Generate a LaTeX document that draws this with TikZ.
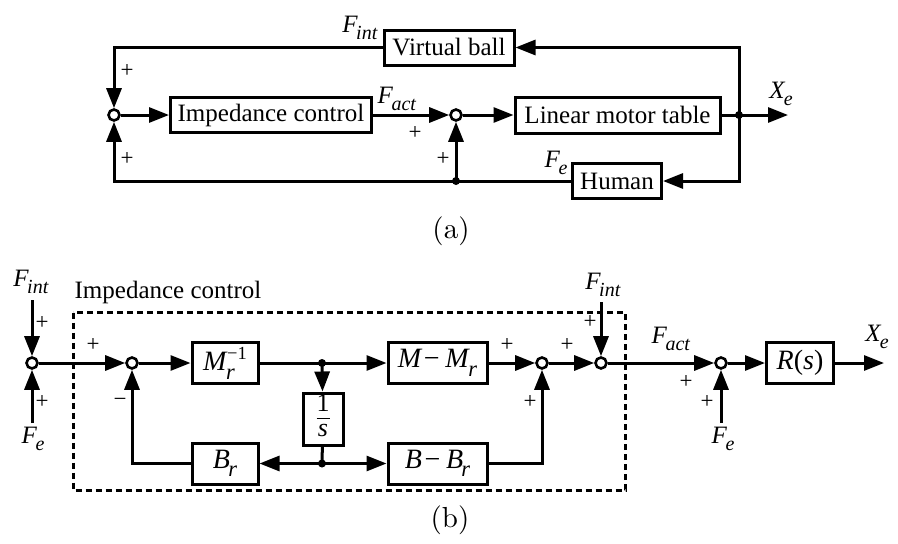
\documentclass[tikz,border=0pt]{standalone}
\usepackage{fontspec}
\setmainfont{Liberation Serif}
\usetikzlibrary{arrows.meta}

% italic symbol with a lowered italic subscript
\newcommand{\sym}[2]{\textit{#1}\kern-0.06em\raisebox{-0.3em}{\scalebox{0.8}{\textit{#2}}}}
% italic symbol with subscript and superscript
\newcommand{\symsup}[3]{\textit{#1}\kern-0.06em\rlap{\raisebox{-0.3em}{\scalebox{0.8}{\textit{#2}}}}\kern0.04em\raisebox{0.42em}{\scalebox{0.66}{#3}}}
% stacked fraction
\newcommand{\stackfrac}[2]{{\setlength{\arrayrulewidth}{1.4pt}\renewcommand{\arraystretch}{0.85}%
  \begin{tabular}{@{}c@{}}#1\\[-1pt]\hline\noalign{\vskip1pt}#2\end{tabular}}}

\begin{document}
\begin{tikzpicture}[x=1pt,y=-1pt,
  line width=3pt,
  >={Triangle[length=20pt,width=15pt]},
  blockbox/.style={draw,rectangle,inner sep=0pt,font=\fontsize{25}{28}\selectfont},
  mathbox/.style={draw,rectangle,inner sep=0pt,font=\fontsize{28}{30}\selectfont},
  sumpt/.style={draw,circle,fill=white,inner sep=0pt,minimum size=11pt,line width=2.6pt},
  dotpt/.style={circle,fill=black,inner sep=0pt,minimum size=8pt},
  sig/.style={inner sep=0pt,font=\fontsize{25}{28}\selectfont},
  sgn/.style={inner sep=0pt,font=\fontsize{23}{24}\selectfont},
  caption/.style={inner sep=0pt},
  plainlabel/.style={inner sep=0pt,font=\fontsize{25}{28}\selectfont},
  dashbox/.style={draw,dash pattern=on 6pt off 4pt,line width=3pt}]

\useasboundingbox (0,0) rectangle (898,544);

% ---------------- (a) ----------------
\node[sumpt] (s1) at (114,115) {};
\node[sumpt] (s2) at (456,115) {};
\node[blockbox,minimum width=201pt,minimum height=35pt] (imp) at (271,115) {Impedance control};
\node[blockbox,minimum width=205pt,minimum height=36pt] (lmt) at (617.5,115) {Linear motor table};
\node[blockbox,minimum width=130pt,minimum height=35pt] (vb) at (449,47.5) {Virtual ball};
\node[blockbox,minimum width=89pt,minimum height=35pt] (hum) at (617,181) {Human};
\node[dotpt] (dA) at (739,115) {};
\node[dotpt] (dB) at (456,181) {};
\coordinate (xa) at (788,115);

\draw[->] (s1) -- (imp);
\draw[->] (imp) -- (s2);
\draw[->] (s2) -- (lmt);
\draw[->] (lmt) -- (xa);
\draw[->] (dA.center) |- (vb.east);
\draw[->] (vb.west) -| (s1);
\draw[->] (dA.center) |- (hum.east);
\draw[->] (hum.west) -| (s1);
\draw[->] (dB.center) -- (s2);

\node[sig] (fintA) at (360,28) {\sym{F}{int}};
\node[sig] (factA) at (397,99) {\sym{F}{act}};
\node[sig] (feA) at (556,163) {\sym{F}{e}};
\node[sig] (xeA) at (781,94) {\sym{X}{e}};
\node[sgn] (pA1) at (127,71) {+};
\node[sgn] (pA2) at (127,159) {+};
\node[sgn] (pA3) at (415,133) {+};
\node[sgn] (pA4) at (443,159) {+};

\node[caption] (capA) at (451,231) {\scalebox{2.9}{\fontfamily{lmr}\fontsize{10}{12}\selectfont (a)}};

% ---------------- (b) ----------------
\draw[dashbox] (73,312.7) rectangle (625.7,490);
\node[plainlabel] (implab) at (168,292) {Impedance control};

\node[sumpt] (sa) at (32,363) {};
\node[sumpt] (sb) at (132,363) {};
\node[sumpt] (sc) at (542,363) {};
\node[sumpt] (sd) at (601,363) {};
\node[sumpt] (se) at (721,363) {};

\node[mathbox,minimum width=66pt,minimum height=41pt] (mr) at (225,363)
  {\symsup{M}{r}{−1}};
\node[mathbox,minimum width=40pt,minimum height=52pt,font=\fontsize{26}{28}\selectfont] (integ) at (323,419)
  {\stackfrac{1}{\textit{s}}};
\node[mathbox,minimum width=66pt,minimum height=41pt] (br) at (225,463.5)
  {\sym{B}{r}};
\node[mathbox,minimum width=99pt,minimum height=41pt] (mm) at (437.5,363)
  {\textit{M}\kern0.05em−\kern0.2em\sym{M}{r}};
\node[mathbox,minimum width=99pt,minimum height=41pt] (bb) at (437.5,463.5)
  {\textit{B}\kern0.1em−\kern0.2em\sym{B}{r}};
\node[mathbox,minimum width=67pt,minimum height=41pt] (rs) at (800,363)
  {\textit{R}(\textit{s})};

\node[dotpt] (d1) at (322,363) {};
\node[dotpt] (d2) at (322,463.5) {};

\coordinate (fi1) at (32,300);
\coordinate (fe1) at (32,423);
\coordinate (fi2) at (601,302);
\coordinate (fe2) at (721,423);
\coordinate (xb) at (884,363);

\draw[->] (fi1) -- (sa);
\draw[->] (fe1) -- (sa);
\draw[->] (sa) -- (sb);
\draw[->] (sb) -- (mr);
\draw[->] (mr) -- (mm);
\draw[->] (d1.center) -- (integ);
\draw (integ) -- (d2.center);
\draw[->] (d2.center) -- (br);
\draw[->] (d2.center) -- (bb);
\draw[->] (br.west) -| (sb);
\draw[->] (bb.east) -| (sc);
\draw[->] (mm) -- (sc);
\draw[->] (sc) -- (sd);
\draw[->] (fi2) -- (sd);
\draw[->] (sd) -- (se);
\draw[->] (fe2) -- (se);
\draw[->] (se) -- (rs);
\draw[->] (rs) -- (xb);

\node[sig] (fintB1) at (31,282) {\sym{F}{int}};
\node[sig] (feB1) at (33,439) {\sym{F}{e}};
\node[sig] (fintB2) at (603,285) {\sym{F}{int}};
\node[sig] (factB) at (671,339) {\sym{F}{act}};
\node[sig] (feB2) at (723,439) {\sym{F}{e}};
\node[sig] (xeB) at (877,337) {\sym{X}{e}};

\node[sgn] (pB1) at (42,323) {+};
\node[sgn] (pB2) at (42,402) {+};
\node[sgn] (pB3) at (93,345) {+};
\node[sgn] (mB1) at (120,402) {−};
\node[sgn] (pB4) at (507,345) {+};
\node[sgn] (pB5) at (530,402) {+};
\node[sgn] (pB6) at (567,345) {+};
\node[sgn] (pB7) at (590,322) {+};
\node[sgn] (pB8) at (686,382) {+};
\node[sgn] (pB9) at (707,402) {+};

\node[caption] (capB) at (450,520) {\scalebox{2.9}{\fontfamily{lmr}\fontsize{10}{12}\selectfont (b)}};
\end{tikzpicture}
\end{document}
